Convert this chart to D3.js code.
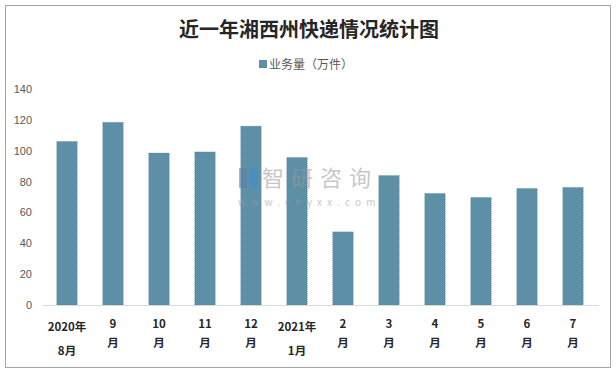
<!DOCTYPE html>
<html>
<head>
<meta charset="utf-8">
<script src="https://cdn.jsdelivr.net/npm/d3@7"></script>
<style>
  body { margin: 0; background: #fff; }
  text { font-family: "Noto Sans CJK SC", "Noto Sans", sans-serif; }
</style>
</head>
<body>
<div class="chart"></div>
<script>
// Data
const months = ["2020年8月", "9月", "10月", "11月", "12月", "2021年1月", "2月", "3月", "4月", "5月", "6月", "7月"];
// axis labels split into two lines the way the picture wraps them
const labelLines = [["2020年", "8月"], ["9", "月"], ["10", "月"], ["11", "月"], ["12", "月"], ["2021年", "1月"],
                    ["2", "月"], ["3", "月"], ["4", "月"], ["5", "月"], ["6", "月"], ["7", "月"]];
const volume = [106, 118.4, 98.5, 99.2, 115.9, 95.6, 47.4, 83.9, 72.3, 69.7, 75.5, 76.2];
const yTicks = [0, 20, 40, 60, 80, 100, 120, 140];

const width = 616, height = 373;
const plot = { left: 44, right: 596, top: 89, bottom: 305 };

const svg = d3.select(".chart")
    .append("svg")
    .attr("width", width)
    .attr("height", height);

// outer frame
svg.append("rect")
    .attr("x", 5.5).attr("y", 5.5)
    .attr("width", 605).attr("height", 362)
    .attr("fill", "#fff")
    .attr("stroke", "#a6a6a6");

// Scales
const x = d3.scaleBand()
    .domain(months)
    .range([plot.left, plot.right])
    .paddingInner(0.555)
    .paddingOuter(0.2775);

const y = d3.scaleLinear()
    .domain([0, 140])
    .range([plot.bottom, plot.top]);

// Title
svg.append("text")
    .attr("x", 309)
    .attr("y", 37)
    .attr("text-anchor", "middle")
    .attr("font-size", 20)
    .attr("font-weight", "bold")
    .attr("fill", "#262626")
    .text("近一年湘西州快递情况统计图");

// Legend
svg.append("rect")
    .attr("x", 259).attr("y", 60)
    .attr("width", 8).attr("height", 8)
    .attr("fill", "#5d8fa7");
svg.append("text")
    .attr("x", 269)
    .attr("y", 68.5)
    .attr("font-size", 12)
    .attr("fill", "#595959")
    .text("业务量（万件）");

// Y axis labels (no axis line, no gridlines)
const yAxis = svg.append("g")
    .attr("transform", `translate(${plot.left - 12},0)`)
    .call(d3.axisLeft(y).tickValues(yTicks).tickSize(0).tickPadding(0));
yAxis.select(".domain").remove();
yAxis.selectAll("text")
    .attr("font-size", 11)
    .attr("fill", "#595959")
    .style("font-family", "'Liberation Sans', Arial, sans-serif");

// Bars
svg.selectAll(".bar")
    .data(volume)
    .enter()
    .append("rect")
    .attr("class", "bar")
    .attr("x", (d, i) => x(months[i]))
    .attr("y", d => y(d))
    .attr("width", x.bandwidth())
    .attr("height", d => y(0) - y(d))
    .attr("fill", "#5d8fa7")
    .attr("stroke", "#5584a0")
    .attr("stroke-width", 0.6)
    .attr("stroke-dasharray", "1,1");

// X axis line
svg.append("line")
    .attr("x1", plot.left - 1).attr("x2", plot.right + 3)
    .attr("y1", y(0) + 0.5).attr("y2", y(0) + 0.5)
    .attr("stroke", "#d9d9d9");

// X axis labels, two lines each
const xl = svg.selectAll(".xlab")
    .data(months)
    .enter()
    .append("text")
    .attr("class", "xlab")
    .attr("text-anchor", "middle")
    .attr("font-size", 11.5)
    .attr("font-weight", "bold")
    .attr("fill", "#262626");

xl.each(function(m, i) {
    const cx = x(m) + x.bandwidth() / 2;
    const lines = labelLines[i];
    const isYear = lines[0].includes("年");
    d3.select(this).append("tspan")
        .attr("x", cx)
        .attr("y", isYear ? 331 : 328)
        .text(lines[0]);
    d3.select(this).append("tspan")
        .attr("x", cx)
        .attr("y", isYear ? 355 : 347)
        .text(lines[1]);
});

// Watermark
const wm = svg.append("g").attr("opacity", 0.55);
wm.append("rect")
    .attr("x", 239).attr("y", 168)
    .attr("width", 8).attr("height", 20)
    .attr("fill", "#5b7fa6");
wm.append("rect")
    .attr("x", 249).attr("y", 168)
    .attr("width", 9).attr("height", 20)
    .attr("fill", "#3a8fd0");
wm.append("text")
    .attr("x", 262).attr("y", 186)
    .attr("font-size", 22)
    .attr("fill", "#9a9a9a")
    .attr("letter-spacing", 7)
    .text("智研咨询");
wm.append("text")
    .attr("x", 238).attr("y", 206)
    .attr("font-size", 10)
    .attr("fill", "#9a9a9a")
    .attr("letter-spacing", 5.2)
    .text("www.chyxx.com");
</script>
</body>
</html>
